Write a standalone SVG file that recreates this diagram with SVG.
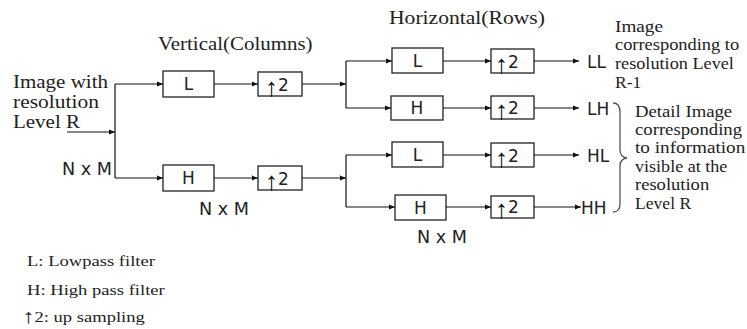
<svg xmlns="http://www.w3.org/2000/svg" width="747" height="329" viewBox="0 0 747 329">
  <style>
    .box { fill: #fff; stroke: #222; stroke-width: 1.3; }
    .wire { fill: none; stroke: #111; stroke-width: 1.2; }
    .sans { font-family: "DejaVu Sans", "Liberation Sans", sans-serif; font-size: 17px; fill: #222; }
    .serif { font-family: "Liberation Serif", "Times New Roman", serif; fill: #222; }
    .lbl { font-size: 18px; }
    .note { font-size: 16px; }
    .legend { font-size: 15px; }
    .arr { font-family: "Liberation Sans", "DejaVu Sans", sans-serif; font-size: 26px; fill: #111; }
  </style>
  <defs>
    <marker id="head" viewBox="0 0 6 6" refX="6" refY="3" markerWidth="6" markerHeight="6" markerUnits="userSpaceOnUse" orient="auto">
      <path d="M0,0.6 L6,3 L0,5.4 Z" fill="#111"/>
    </marker>
  </defs>

  <!-- stage titles (serif, widened horizontally) -->
  <g transform="translate(158,50) scale(1.163,1)"><text class="serif lbl">Vertical(Columns)</text></g>
  <g transform="translate(389,24) scale(1.2,1)"><text class="serif lbl">Horizontal(Rows)</text></g>

  <!-- input description -->
  <g id="input">
    <g transform="translate(13,88) scale(1.166,1)"><text class="serif lbl">Image with</text></g>
    <g transform="translate(13,108) scale(1.194,1)"><text class="serif lbl">resolution</text></g>
    <g transform="translate(13,128) scale(1.165,1)"><text class="serif lbl">Level R</text></g>
    <text class="sans" x="62" y="175" textLength="50" lengthAdjust="spacingAndGlyphs">N x M</text>
  </g>

  <!-- column stage -->
  <g id="colL">
    <rect class="box" x="163" y="71" width="51" height="26"/>
    <text class="sans" x="188.5" y="90" text-anchor="middle">L</text>
  </g>
  <g id="colH">
    <rect class="box" x="163" y="165" width="51" height="26"/>
    <text class="sans" x="188.5" y="184" text-anchor="middle">H</text>
  </g>
  <g id="colUpL">
    <rect class="box" x="258" y="72" width="44" height="24"/>
    <text x="265" y="96"><tspan class="arr">↑</tspan><tspan class="sans" dy="-5">2</tspan></text>
  </g>
  <g id="colUpH">
    <rect class="box" x="258" y="166" width="44" height="24"/>
    <text x="265" y="190"><tspan class="arr">↑</tspan><tspan class="sans" dy="-5">2</tspan></text>
  </g>
  <text class="sans" x="199" y="215" textLength="50" lengthAdjust="spacingAndGlyphs">N x M</text>

  <!-- row stage -->
  <g id="rowLL">
    <rect class="box" x="392" y="48" width="51" height="25"/>
    <text class="sans" x="417.5" y="67" text-anchor="middle">L</text>
  </g>
  <g id="rowLH">
    <rect class="box" x="391" y="96" width="52" height="24"/>
    <text class="sans" x="417" y="114" text-anchor="middle">H</text>
  </g>
  <g id="rowHL">
    <rect class="box" x="392" y="142" width="51" height="25"/>
    <text class="sans" x="417.5" y="161" text-anchor="middle">L</text>
  </g>
  <g id="rowHH">
    <rect class="box" x="395" y="195" width="51" height="25"/>
    <text class="sans" x="420.5" y="214" text-anchor="middle">H</text>
  </g>
  <text class="sans" x="417" y="243" textLength="50" lengthAdjust="spacingAndGlyphs">N x M</text>

  <g id="upLL">
    <rect class="box" x="491" y="49" width="43" height="24"/>
    <text x="495" y="73"><tspan class="arr">↑</tspan><tspan class="sans" dy="-5">2</tspan></text>
  </g>
  <g id="upLH">
    <rect class="box" x="491" y="96" width="43" height="23"/>
    <text x="495" y="119"><tspan class="arr">↑</tspan><tspan class="sans" dy="-5">2</tspan></text>
  </g>
  <g id="upHL">
    <rect class="box" x="491" y="143" width="43" height="24"/>
    <text x="495" y="167"><tspan class="arr">↑</tspan><tspan class="sans" dy="-5">2</tspan></text>
  </g>
  <g id="upHH">
    <rect class="box" x="491" y="196" width="43" height="22"/>
    <text x="495" y="218"><tspan class="arr">↑</tspan><tspan class="sans" dy="-5">2</tspan></text>
  </g>

  <!-- outputs -->
  <g id="outLL"><text class="sans" x="587" y="68">LL</text></g>
  <g id="outLH"><text class="sans" x="587" y="115">LH</text></g>
  <g id="outHL"><text class="sans" x="587" y="162">HL</text></g>
  <g id="outHH"><text class="sans" x="581" y="214">HH</text></g>

  <g id="noteLL">
    <g transform="translate(615,32) scale(1.2,1)"><text class="serif note">Image</text></g>
    <g transform="translate(615,50) scale(1.15,1)"><text class="serif note">corresponding to</text></g>
    <g transform="translate(615,69) scale(1.14,1)"><text class="serif note">resolution Level</text></g>
    <g transform="translate(615,88) scale(1.1,1)"><text class="serif note">R-1</text></g>
  </g>

  <g id="noteDetail">
    <path d="M613,103 Q620,103 620,112 L620,150 Q620,157 627,158 Q620,159 620,166 L620,204 Q620,212 613,212" fill="none" stroke="#555" stroke-width="1.3"/>
    <g transform="translate(635,117) scale(1.17,1)"><text class="serif note">Detail Image</text></g>
    <g transform="translate(635,135) scale(1.17,1)"><text class="serif note">corresponding</text></g>
    <g transform="translate(635,153) scale(1.2,1)"><text class="serif note">to information</text></g>
    <g transform="translate(635,172) scale(1.13,1)"><text class="serif note">visible at  the</text></g>
    <g transform="translate(635,190) scale(1.16,1)"><text class="serif note">resolution</text></g>
    <g transform="translate(635,209) scale(1.1,1)"><text class="serif note">Level R</text></g>
  </g>

  <!-- legend -->
  <g id="legend">
    <g transform="translate(27,266) scale(1.24,1)"><text class="serif legend">L: Lowpass filter</text></g>
    <g transform="translate(27,295) scale(1.24,1)"><text class="serif legend">H: High pass filter</text></g>
    <g transform="translate(22,323) scale(1.24,1)"><text class="serif legend"><tspan font-family="Liberation Sans, DejaVu Sans, sans-serif" font-size="20">↑</tspan><tspan dy="-1">2: up sampling</tspan></text></g>
  </g>

  <!-- connectors -->
  <g id="connectors" class="wire">
    <path d="M67,132 H115" marker-end="url(#head)"/>
    <path d="M115,84 V178"/>
    <path d="M115,84 H163" marker-end="url(#head)"/>
    <path d="M115,178 H163" marker-end="url(#head)"/>
    <path d="M214,84 H258" marker-end="url(#head)"/>
    <path d="M214,178 H258" marker-end="url(#head)"/>
    <path d="M302,84 H346" marker-end="url(#head)"/>
    <path d="M302,178 H346" marker-end="url(#head)"/>
    <path d="M346,61 V108"/>
    <path d="M346,155 V207"/>
    <path d="M346,61 H392" marker-end="url(#head)"/>
    <path d="M346,108 H391" marker-end="url(#head)"/>
    <path d="M346,155 H392" marker-end="url(#head)"/>
    <path d="M346,207 H395" marker-end="url(#head)"/>
    <path d="M443,61 H491" marker-end="url(#head)"/>
    <path d="M443,108 H491" marker-end="url(#head)"/>
    <path d="M443,155 H491" marker-end="url(#head)"/>
    <path d="M446,207 H491" marker-end="url(#head)"/>
    <path d="M534,61 H579" marker-end="url(#head)"/>
    <path d="M534,108 H579" marker-end="url(#head)"/>
    <path d="M534,155 H579" marker-end="url(#head)"/>
    <path d="M534,207 H581" marker-end="url(#head)"/>
  </g>
</svg>
